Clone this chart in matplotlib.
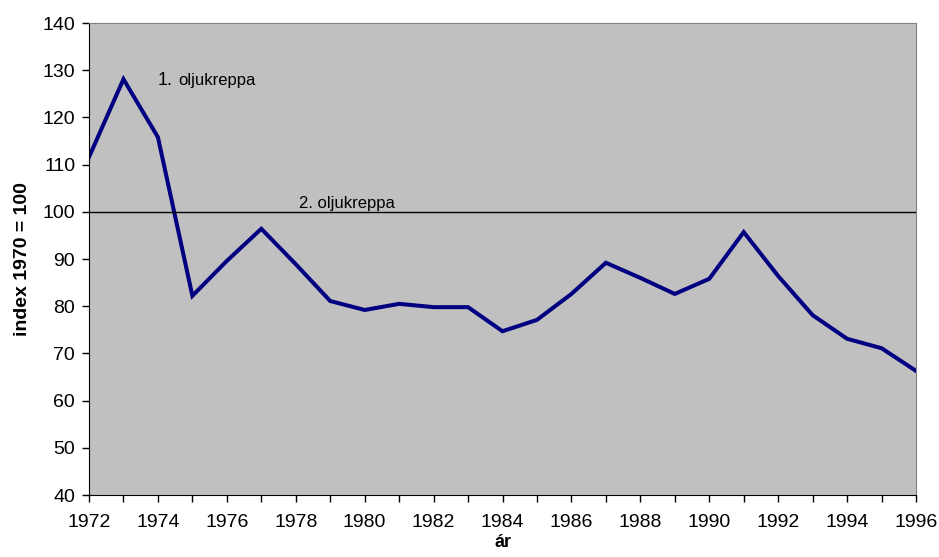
import matplotlib.pyplot as plt

plt.rcParams['font.family'] = ['Liberation Sans', 'DejaVu Sans']

years = list(range(1972, 1997))
index = [111.6, 128.1, 115.8, 82.2, 89.6, 96.4, 88.9, 81.1, 79.2, 80.5,
         79.8, 79.8, 74.7, 77.1, 82.6, 89.2, 86.0, 82.6, 85.8, 95.7,
         86.4, 78.1, 73.1, 71.1, 66.3]
ref_level = 100

fig = plt.figure(figsize=(9.39, 5.57), dpi=100)
ax = fig.add_axes([0.0948, 0.1113, 0.8807, 0.8474])
ax.set_facecolor('#c0c0c0')

ax.plot(years, index, color='#000080', lw=2.9, solid_joinstyle='miter')
ax.axhline(ref_level, color='black', lw=1)

# annotations
ax.text(1974.0, 126.9, '1.', fontsize=13, va='baseline')
ax.text(1974.6, 126.9, 'oljukreppa', fontsize=12, va='baseline')
ax.text(1978.1, 100.8, '2. oljukreppa', fontsize=12, va='baseline')

ax.set_xlim(1972, 1996)
ax.set_ylim(40, 140)
ax.set_xticks(range(1972, 1997, 2))
ax.set_xticks(range(1972, 1997), minor=True)
ax.set_yticks(range(40, 141, 10))
ax.tick_params(axis='both', which='both', direction='out', length=5, width=1,
               labelsize=14, colors='black')
ax.tick_params(axis='x', which='both', pad=9)
ax.tick_params(axis='y', pad=5)

for side in ['top', 'right']:
    ax.spines[side].set_color('#808080')
for side in ['left', 'bottom']:
    ax.spines[side].set_color('black')

ax.set_xlabel('ár', fontsize=13, fontweight='bold', labelpad=2)
ax.set_ylabel('index 1970 = 100', fontsize=14, fontweight='bold', labelpad=8)

fig.savefig('out.png', dpi=100)
